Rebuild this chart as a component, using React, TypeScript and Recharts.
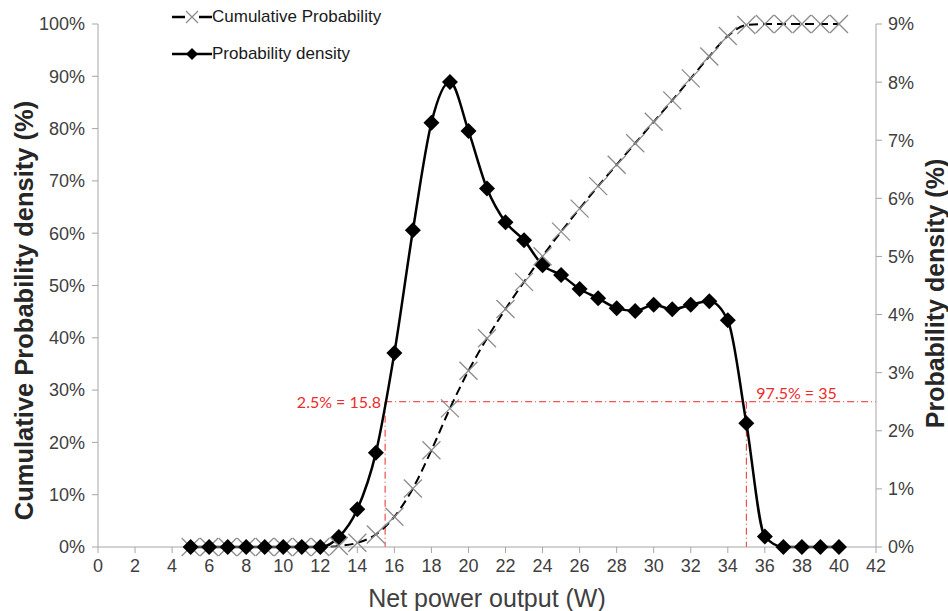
import React from "react"
import { LineChart, Line, XAxis, YAxis, ReferenceLine } from "recharts"

// Net power output (W)
const power = [5, 6, 7, 8, 9, 10, 11, 12, 13, 14, 15, 16, 17, 18, 19, 20, 21, 22, 23, 24, 25, 26, 27, 28, 29, 30, 31, 32, 33, 34, 35, 36, 37, 38, 39, 40]
// Probability density (%), right axis
const density = [0, 0, 0, 0, 0, 0, 0, 0, 0.17, 0.65, 1.62, 3.34, 5.45, 7.3, 8.0, 7.16, 6.17, 5.59, 5.28, 4.85, 4.68, 4.44, 4.28, 4.11, 4.06, 4.17, 4.09, 4.17, 4.23, 3.9, 2.13, 0.18, 0, 0, 0, 0]
// Cumulative probability (%), left axis
const cumulative = [0, 0, 0, 0, 0, 0, 0, 0, 0.2, 0.8, 2.4, 5.8, 11.2, 18.5, 26.5, 33.7, 39.9, 45.5, 50.7, 55.6, 60.3, 64.7, 69.0, 73.1, 77.2, 81.3, 85.4, 89.6, 93.8, 97.7, 99.8, 100, 100, 100, 100, 100]

const xTicks = [0, 2, 4, 6, 8, 10, 12, 14, 16, 18, 20, 22, 24, 26, 28, 30, 32, 34, 36, 38, 40, 42]
const leftTicks = [0, 10, 20, 30, 40, 50, 60, 70, 80, 90, 100]
const rightTicks = [0, 1, 2, 3, 4, 5, 6, 7, 8, 9]

// 2.5% / 97.5% markers
const level = 2.5
const lowerX = 15.5
const upperX = 35
const lowerText = "2.5% = 15.8"
const upperText = "97.5% = 35"

const data = power.map((x, i) => ({ x, density: density[i], cumulative: cumulative[i] }))

const AXIS = "#a6a6a6"
const TICK = { fill: "#404040", fontSize: 18 }
const RED = "#ee2a2a"

const Diamond = (p: any) => {
  const { cx, cy, index } = p
  if (cx == null || cy == null) return <g key={index} />
  const r = 8
  return <path key={index} d={`M${cx},${cy - r}L${cx + r},${cy}L${cx},${cy + r}L${cx - r},${cy}Z`} fill="#000" />
}

const Cross = (p: any) => {
  const { cx, cy, index } = p
  if (cx == null || cy == null) return <g key={index} />
  const r = 9
  return (
    <g key={index} stroke="#8c8c8c" strokeWidth={1.3}>
      <line x1={cx - r} y1={cy - r} x2={cx + r} y2={cy + r} />
      <line x1={cx - r} y1={cy + r} x2={cx + r} y2={cy - r} />
    </g>
  )
}

function LegendBox() {
  return (
    <div style={{ position: "absolute", left: 172, top: 5, fontSize: 17, color: "#1a1a1a" }}>
      <div style={{ display: "flex", alignItems: "center", height: 24 }}>
        <svg width={40} height={20}>
          <line x1={0} y1={10} x2={13} y2={10} stroke="#000" strokeWidth={2.5} />
          <line x1={27} y1={10} x2={40} y2={10} stroke="#000" strokeWidth={2.5} />
          <line x1={14} y1={4} x2={26} y2={16} stroke="#8c8c8c" strokeWidth={1.3} />
          <line x1={14} y1={16} x2={26} y2={4} stroke="#8c8c8c" strokeWidth={1.3} />
        </svg>
        <span>Cumulative Probability</span>
      </div>
      <div style={{ display: "flex", alignItems: "center", height: 24, marginTop: 13 }}>
        <svg width={40} height={20}>
          <line x1={0} y1={10} x2={40} y2={10} stroke="#000" strokeWidth={2.5} />
          <path d="M20,4L26,10L20,16L14,10Z" fill="#000" />
        </svg>
        <span>Probability density</span>
      </div>
    </div>
  )
}

export default function App() {
  return (
    <div style={{ position: "absolute", left: 0, top: 0, width: 948, height: 611, background: "#fff", fontFamily: "Liberation Sans, Arial, sans-serif" }}>
      <LineChart width={948} height={611} data={data} margin={{ top: 24, right: 0, bottom: 0, left: 0 }}>
        <XAxis
          type="number"
          dataKey="x"
          domain={[0, 42]}
          ticks={xTicks}
          height={64}
          stroke={AXIS}
          tick={TICK}
          tickSize={6}
          tickMargin={6}
          label={{ value: "Net power output (W)", position: "insideBottom", offset: 4, fill: "#404040", fontSize: 25 }}
        />
        <YAxis
          yAxisId="left"
          domain={[0, 100]}
          ticks={leftTicks}
          width={98}
          stroke={AXIS}
          tick={TICK}
          tickSize={6}
          tickMargin={7}
          tickFormatter={(v) => `${v}%`}
          label={{
            content: ({ viewBox }: any) => (
              <text
                x={viewBox.x + 24}
                y={viewBox.y + viewBox.height / 2 + 25}
                transform={`rotate(-90 ${viewBox.x + 24} ${viewBox.y + viewBox.height / 2 + 25})`}
                textAnchor="middle"
                dominantBaseline="central"
                fontSize={25.5}
                fontWeight="bold"
                fill="#262626"
              >
                Cumulative Probability density (%)
              </text>
            ),
          }}
        />
        <YAxis
          yAxisId="right"
          orientation="right"
          domain={[0, 9]}
          ticks={rightTicks}
          width={72}
          stroke={AXIS}
          tick={TICK}
          tickSize={6}
          tickMargin={6}
          tickFormatter={(v) => `${v}%`}
          label={{
            content: ({ viewBox }: any) => (
              <text
                x={viewBox.x + 59}
                y={viewBox.y + viewBox.height / 2 + 8}
                transform={`rotate(-90 ${viewBox.x + 59} ${viewBox.y + viewBox.height / 2 + 8})`}
                textAnchor="middle"
                dominantBaseline="central"
                fontSize={25}
                fontWeight="bold"
                fill="#262626"
              >
                Probability density (%)
              </text>
            ),
          }}
        />
        <ReferenceLine
          yAxisId="right"
          segment={[{ x: lowerX, y: level }, { x: 42, y: level }]}
          stroke={RED}
          strokeWidth={1}
          strokeDasharray="7 3 1 3"
          label={{
            content: ({ viewBox }: any) => (
              <text x={viewBox.x - 4} y={viewBox.y + 6} textAnchor="end" fill={RED} fontSize={16} fontFamily="Lato, sans-serif">
                {lowerText}
              </text>
            ),
          }}
        />
        <ReferenceLine
          yAxisId="right"
          segment={[{ x: lowerX, y: level }, { x: lowerX, y: 0 }]}
          stroke={RED}
          strokeWidth={1}
          strokeDasharray="7 3 1 3"
        />
        <ReferenceLine
          yAxisId="right"
          segment={[{ x: upperX, y: level }, { x: upperX, y: 0 }]}
          stroke={RED}
          strokeWidth={1}
          strokeDasharray="7 3 1 3"
          label={{
            content: ({ viewBox }: any) => (
              <text x={viewBox.x + 10} y={viewBox.y - 3} textAnchor="start" fill={RED} fontSize={16} fontFamily="Lato, sans-serif">
                {upperText}
              </text>
            ),
          }}
        />
        <Line
          yAxisId="left"
          type="monotone"
          dataKey="cumulative"
          name="Cumulative Probability"
          stroke="#000"
          strokeWidth={2}
          strokeDasharray="9 5"
          dot={Cross}
          activeDot={false}
          isAnimationActive={false}
        />
        <Line
          yAxisId="right"
          type="monotone"
          dataKey="density"
          name="Probability density"
          stroke="#000"
          strokeWidth={2.5}
          dot={Diamond}
          activeDot={false}
          isAnimationActive={false}
        />
      </LineChart>
      <LegendBox />
    </div>
  )
}
